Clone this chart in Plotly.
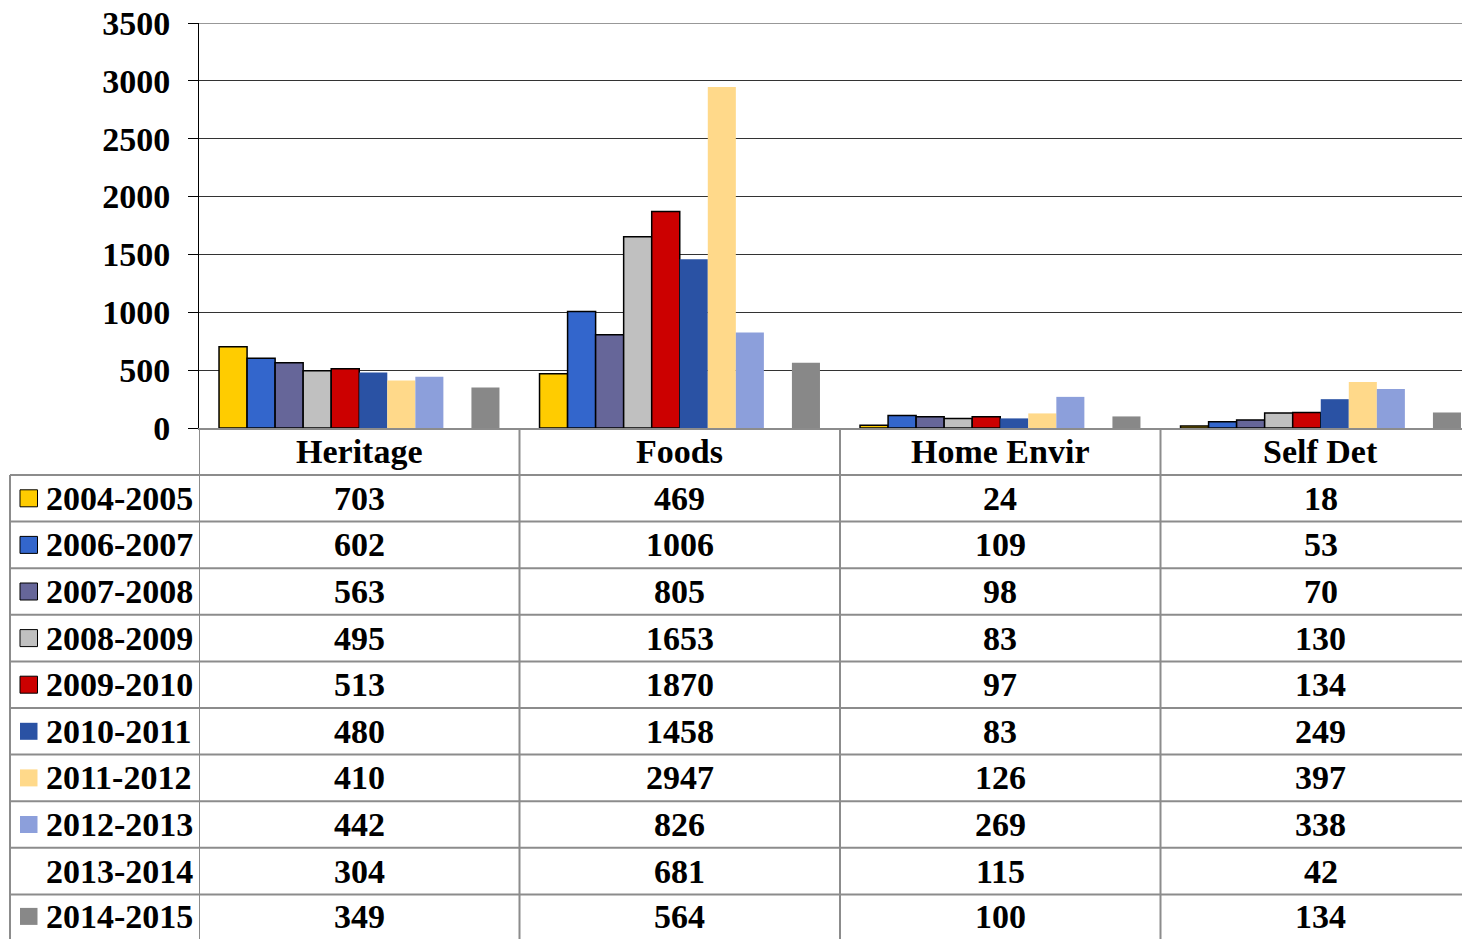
import plotly.graph_objects as go

categories = ["Heritage", "Foods", "Home Envir", "Self Det"]
series_names = ["2004-2005", "2006-2007", "2007-2008", "2008-2009", "2009-2010",
                "2010-2011", "2011-2012", "2012-2013", "2013-2014", "2014-2015"]
v_2004_2005 = [703, 469, 24, 18]
v_2006_2007 = [602, 1006, 109, 53]
v_2007_2008 = [563, 805, 98, 70]
v_2008_2009 = [495, 1653, 83, 130]
v_2009_2010 = [513, 1870, 97, 134]
v_2010_2011 = [480, 1458, 83, 249]
v_2011_2012 = [410, 2947, 126, 397]
v_2012_2013 = [442, 826, 269, 338]
v_2013_2014 = [304, 681, 115, 42]
v_2014_2015 = [349, 564, 100, 134]
series_values = [v_2004_2005, v_2006_2007, v_2007_2008, v_2008_2009, v_2009_2010,
                 v_2010_2011, v_2011_2012, v_2012_2013, v_2013_2014, v_2014_2015]
colors = ["#FFCC00", "#3366CC", "#666699", "#C0C0C0", "#CC0000",
          "#2A52A4", "#FFD98A", "#8C9FDB", "rgba(0,0,0,0)", "#888888"]
outlined = [True, True, True, True, True, False, False, False, False, False]
y_ticks = [0, 500, 1000, 1500, 2000, 2500, 3000, 3500]

# page body margin offset (plotly html page has an 8px body margin)
OFF = 8
W, H = 1470, 939 - OFF
L, T = 199 - OFF, 23 - OFF
PLOT_BOTTOM = 428 - OFF
B = H - PLOT_BOTTOM
R = 0
PW, PH = W - L - R, H - T - B

def px_x(px):
    """page pixel x (reference coords) -> paper x"""
    return (px - OFF - L) / PW

def px_y(py):
    """page pixel y (reference coords) -> paper y"""
    return (PLOT_BOTTOM - (py - OFF)) / PH

FONT = "Liberation Serif, Times New Roman, serif"
FS = 34
GRIDC = "#8c8c8c"

fig = go.Figure()
for name, vals, col, ol in zip(series_names, series_values, colors, outlined):
    fig.add_trace(go.Bar(
        x=categories, y=vals, name=name,
        marker=dict(color=col, line=dict(color="black" if ol else col, width=1.5 if ol else 0)),
        showlegend=False, hoverinfo="x+y+name",
    ))

# category width in the reference = 320.5 px; the plot is clipped at the right edge
ncat_visible = PW / 320.5
fig.update_layout(
    width=W, height=H,
    margin=dict(l=L, r=R, t=T, b=B, pad=0, autoexpand=False),
    barmode="group", bargap=0.125, bargroupgap=0,
    plot_bgcolor="white", paper_bgcolor="white",
    xaxis=dict(range=[-0.5, -0.5 + ncat_visible], showticklabels=False, ticks="",
               showline=True, linecolor=GRIDC, linewidth=2, showgrid=False,
               zeroline=False, fixedrange=True, automargin=False),
    yaxis=dict(range=[0, 3500], tickvals=y_ticks, ticktext=[str(t) for t in y_ticks],
               showline=True, linecolor="black", linewidth=1,
               ticks="outside", ticklen=10, tickcolor="black", tickwidth=1,
               showgrid=True, gridcolor="#333333", gridwidth=1, zeroline=False,
               tickfont=dict(family=FONT, size=FS, color="black", weight="bold"),
               ticklabelstandoff=11, ticklabeloverflow="allow", fixedrange=True,
               automargin=False),
)

shapes = []
annotations = []

# top gridline at 3500
shapes.append(dict(type="line", xref="paper", yref="y", x0=0, x1=1, y0=3500, y1=3500,
                   line=dict(color="#333333", width=1)))

header_top, header_bot = 428, 475
row_h = (939 - 475) / 10.0 + 0.2
row_lines = [header_bot + i * row_h for i in range(10)]

# horizontal lines of the data table
for ry in row_lines:
    shapes.append(dict(type="line", xref="paper", yref="paper",
                       x0=px_x(10), x1=1.0, y0=px_y(ry), y1=px_y(ry),
                       line=dict(color=GRIDC, width=2)))
# vertical lines
shapes.append(dict(type="line", xref="paper", yref="paper",
                   x0=px_x(10), x1=px_x(10), y0=px_y(header_bot), y1=px_y(945),
                   line=dict(color=GRIDC, width=2)))
for k in range(len(categories)):
    xk = k - 0.5
    shapes.append(dict(type="line", xref="x", yref="paper",
                       x0=xk, x1=xk, y0=px_y(header_top), y1=px_y(945),
                       line=dict(color=GRIDC, width=2)))

# header row labels
for c in categories:
    annotations.append(dict(xref="x", yref="paper", x=c, y=px_y((header_top + header_bot) / 2),
                            text=c, showarrow=False, xanchor="center", yanchor="middle",
                            font=dict(family=FONT, size=FS, color="black", weight="bold")))

# data rows with legend keys
for i, (name, vals, col, ol) in enumerate(zip(series_names, series_values, colors, outlined)):
    cy = row_lines[i] + row_h / 2
    if i == 9:
        cy = row_lines[i] + 22
    annotations.append(dict(xref="paper", yref="paper", x=px_x(44), y=px_y(cy),
                            text=name, showarrow=False, xanchor="left", yanchor="middle",
                            font=dict(family=FONT, size=FS, color="black", weight="bold")))
    if col != "rgba(0,0,0,0)":
        shapes.append(dict(type="rect", xref="paper", yref="paper",
                           x0=px_x(20), x1=px_x(37.5), y0=px_y(cy - 8.5), y1=px_y(cy + 8.5),
                           fillcolor=col, line=dict(color="black" if ol else col, width=1 if ol else 0)))
    for c, v in zip(categories, vals):
        annotations.append(dict(xref="x", yref="paper", x=c, y=px_y(cy),
                                text=str(v), showarrow=False, xanchor="center", yanchor="middle",
                                font=dict(family=FONT, size=FS, color="black", weight="bold")))

fig.update_layout(shapes=shapes, annotations=annotations)
fig.write_html("out.html")
